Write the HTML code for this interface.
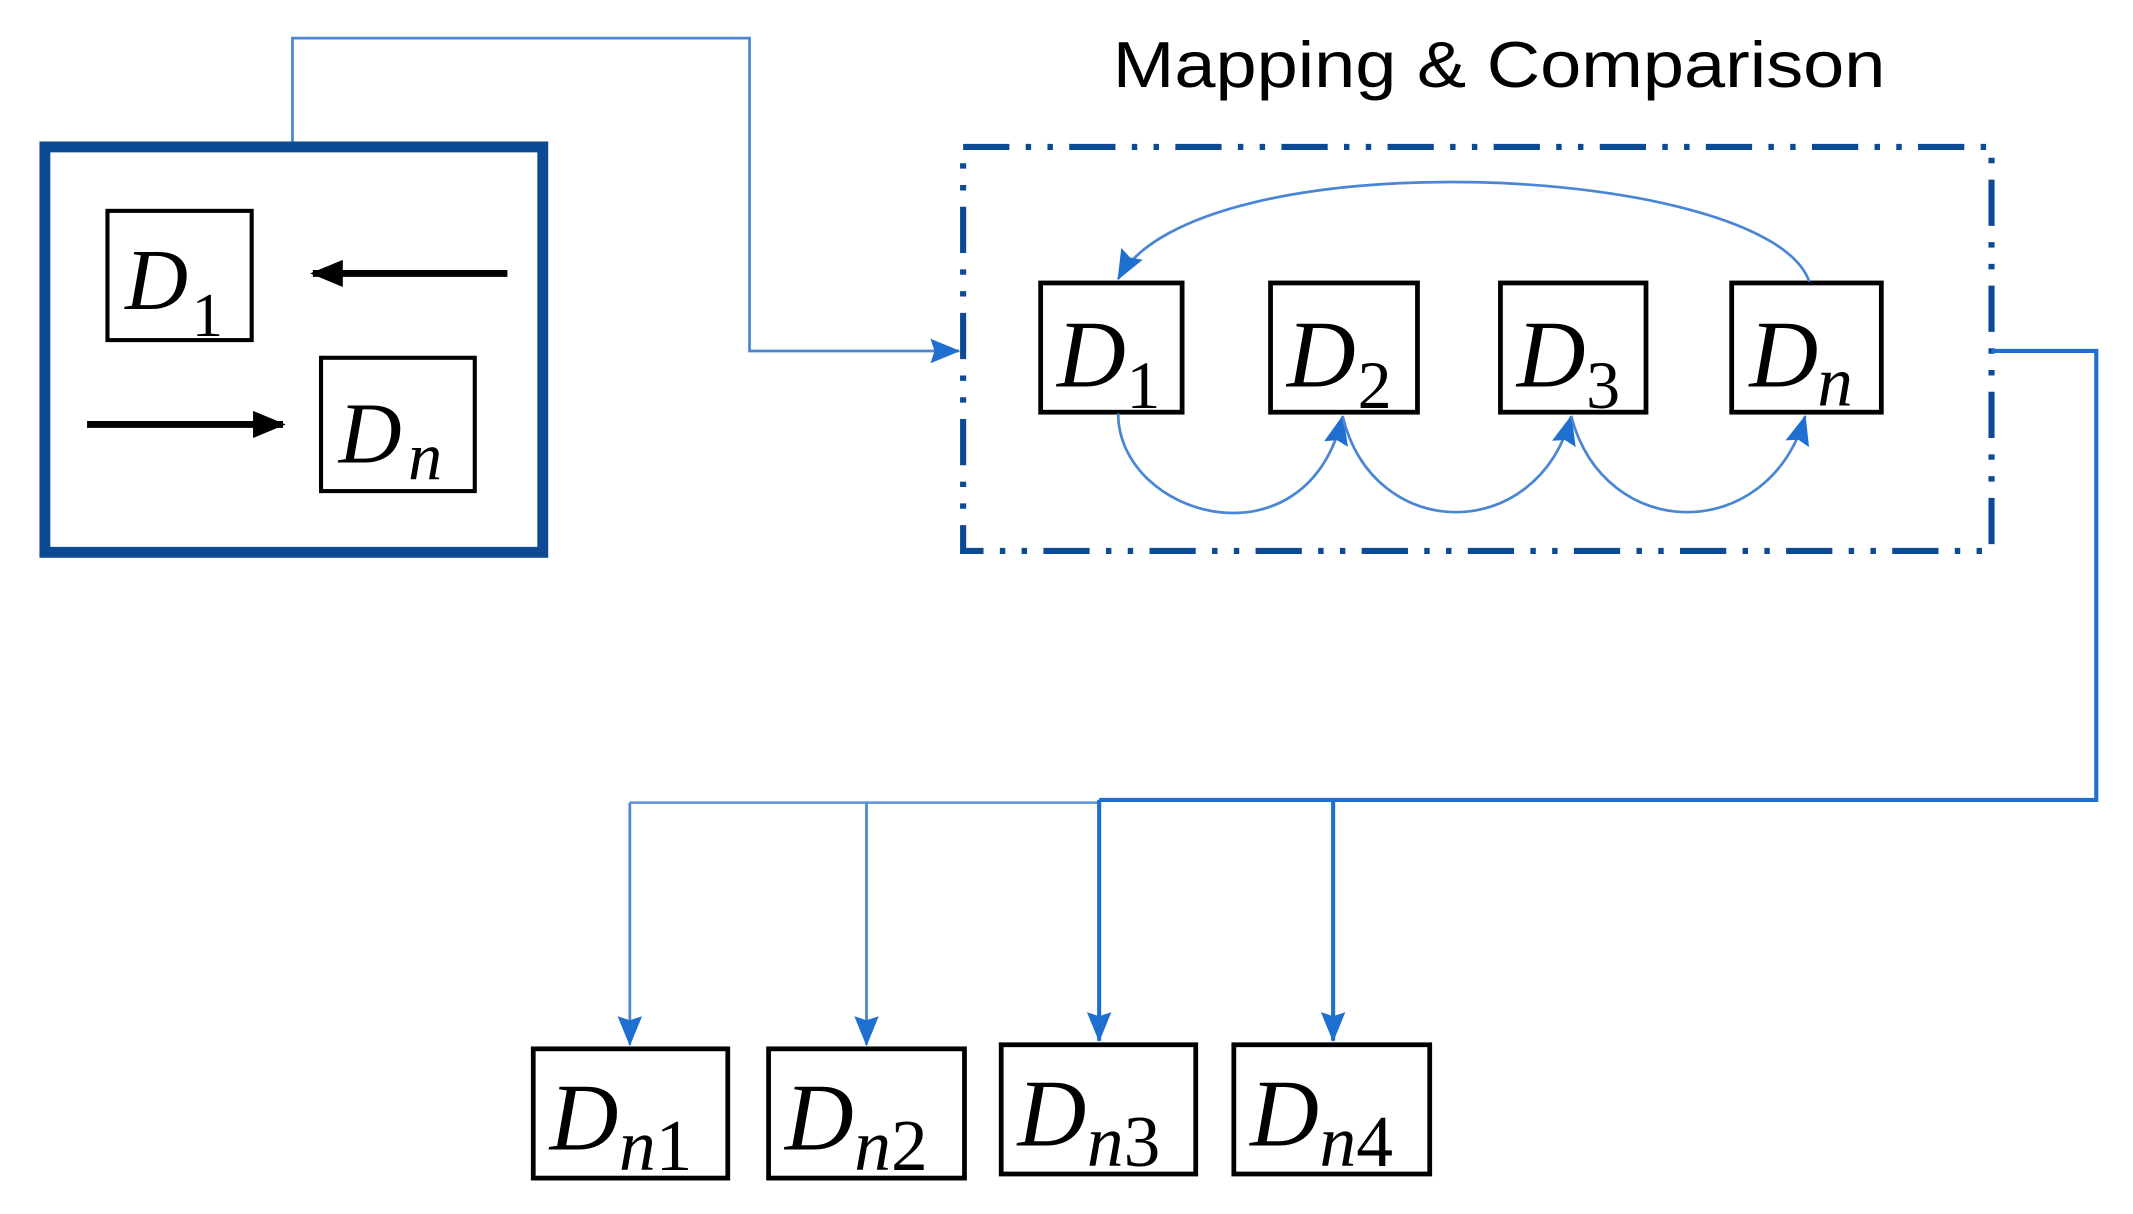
<!DOCTYPE html>
<html><head><meta charset="utf-8"><style>
html,body{margin:0;padding:0;background:#fff;}
svg{display:block;}
.m{font-family:"Liberation Serif",serif;font-style:italic;fill:#000;}
.s{font-family:"Liberation Serif",serif;font-style:normal;fill:#000;}
</style></head><body>
<svg width="2133" height="1214" viewBox="0 0 1568 892.4" preserveAspectRatio="none" xmlns="http://www.w3.org/2000/svg">
<defs>
<marker id="abk" markerWidth="24" markerHeight="24" refX="22" refY="12" orient="auto" markerUnits="userSpaceOnUse" viewBox="0 0 24 24"><path d="M0,2 L24,12 L0,22 z" fill="#000"/></marker>
<marker id="abl" markerWidth="22" markerHeight="20" refX="21" refY="10" orient="auto" markerUnits="userSpaceOnUse" viewBox="0 0 22 20"><path d="M0,1 L22,10 L0,19 L3,10 z" fill="#1f6fd0"/></marker>
</defs>

<text x="818" y="64" font-family="Liberation Sans, sans-serif" font-size="48" fill="#000" textLength="568" lengthAdjust="spacingAndGlyphs">Mapping &amp; Comparison</text>

<polyline points="215,105 215,28 551,28 551,258 705,258" fill="none" stroke="#4a86d4" stroke-width="2" marker-end="url(#abl)"/>

<rect x="33" y="108" width="366" height="298" fill="none" stroke="#0d4a94" stroke-width="8"/>
<rect x="79" y="155" width="106" height="95" fill="#fff" stroke="#000" stroke-width="3"/>
<text class="m" x="92" y="227" font-size="64">D</text><text class="s" x="141" y="247" font-size="46">1</text>
<rect x="236" y="263" width="113" height="98" fill="#fff" stroke="#000" stroke-width="3"/>
<text class="m" x="249" y="340" font-size="64">D</text><text class="m" x="300" y="352" font-size="50">n</text>
<line x1="373" y1="201" x2="230" y2="201" stroke="#000" stroke-width="5" marker-end="url(#abk)"/>
<line x1="64" y1="312" x2="208" y2="312" stroke="#000" stroke-width="5" marker-end="url(#abk)"/>

<rect x="708" y="108" width="756" height="297" fill="none" stroke="#0d4a94" stroke-width="4.5" stroke-dasharray="34,12,4,12,4,12"/>

<g stroke="#000" stroke-width="3.5" fill="#fff">
<rect x="765" y="208" width="104" height="95"/>
<rect x="934" y="208" width="108" height="95"/>
<rect x="1103" y="208" width="107" height="95"/>
<rect x="1273" y="208" width="110" height="95"/>
</g>
<text class="m" x="777" y="284" font-size="70">D</text><text class="s" x="828" y="300" font-size="50">1</text>
<text class="m" x="946" y="284" font-size="70">D</text><text class="s" x="998" y="300" font-size="50">2</text>
<text class="m" x="1115" y="284" font-size="70">D</text><text class="s" x="1166" y="300" font-size="50">3</text>
<text class="m" x="1286" y="284" font-size="70">D</text><text class="m" x="1336" y="298" font-size="52">n</text>

<path d="M1330,207 C1300,120 880,100 822,205" fill="none" stroke="#4a86d4" stroke-width="2" marker-end="url(#abl)"/>
<path d="M822,304 C822,380 960,420 987,306" fill="none" stroke="#4a86d4" stroke-width="2" marker-end="url(#abl)"/>
<path d="M987,306 C1010,400 1130,400 1155,306" fill="none" stroke="#4a86d4" stroke-width="2" marker-end="url(#abl)"/>
<path d="M1155,306 C1180,400 1300,400 1327,306" fill="none" stroke="#4a86d4" stroke-width="2" marker-end="url(#abl)"/>

<polyline points="1464,258 1541,258 1541,588 808,588" fill="none" stroke="#1f6fd0" stroke-width="3"/>
<polyline points="808,590 463,590" fill="none" stroke="#6a9be0" stroke-width="2"/>
<line x1="463" y1="590" x2="463" y2="768" stroke="#4a86d4" stroke-width="2" marker-end="url(#abl)"/>
<line x1="637" y1="590" x2="637" y2="768" stroke="#4a86d4" stroke-width="2" marker-end="url(#abl)"/>
<line x1="808" y1="588" x2="808" y2="765" stroke="#1f6fd0" stroke-width="3" marker-end="url(#abl)"/>
<line x1="980" y1="588" x2="980" y2="765" stroke="#1f6fd0" stroke-width="3" marker-end="url(#abl)"/>

<g stroke="#000" stroke-width="3.5" fill="#fff">
<rect x="392" y="771" width="143" height="95"/>
<rect x="565" y="771" width="144" height="95"/>
<rect x="736" y="768" width="143" height="95"/>
<rect x="907" y="768" width="144" height="95"/>
</g>
<text class="m" x="404" y="845" font-size="70">D</text><text class="m" x="455" y="860" font-size="54">n</text><text class="s" x="482" y="860" font-size="54">1</text>
<text class="m" x="577" y="845" font-size="70">D</text><text class="m" x="628" y="860" font-size="54">n</text><text class="s" x="655" y="860" font-size="54">2</text>
<text class="m" x="748" y="842" font-size="70">D</text><text class="m" x="799" y="857" font-size="54">n</text><text class="s" x="826" y="857" font-size="54">3</text>
<text class="m" x="919" y="842" font-size="70">D</text><text class="m" x="970" y="857" font-size="54">n</text><text class="s" x="997" y="857" font-size="54">4</text>
</svg>
</body></html>
